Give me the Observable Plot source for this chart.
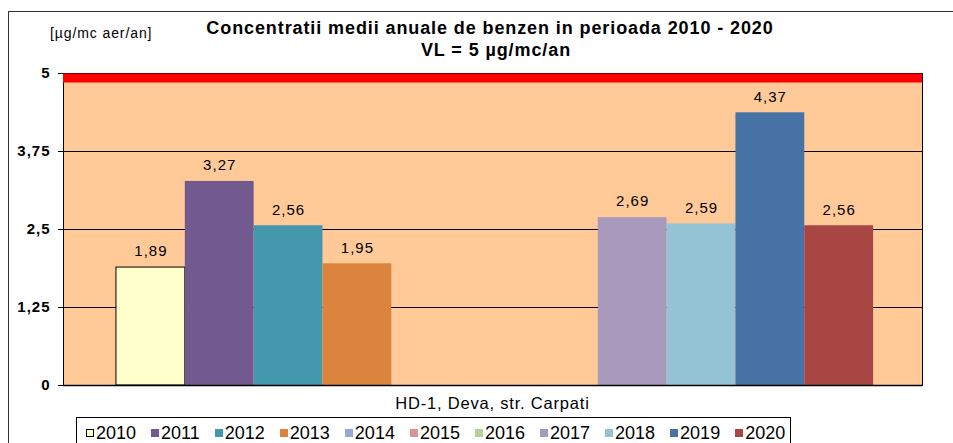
<!DOCTYPE html>
<html>
<head>
<meta charset="utf-8">
<script src="https://cdn.jsdelivr.net/npm/d3@7"></script>
<script src="https://cdn.jsdelivr.net/npm/@observablehq/plot@0.6"></script>
<style>
  html, body { margin: 0; padding: 0; background: #fff; }
  body { font-family: "Liberation Sans", Arial, sans-serif; color: #000; }
  #wrap { position: relative; width: 953px; height: 443px; overflow: hidden; }
  #wrap svg { position: absolute; left: 0; top: 0; }
  .abs { position: absolute; white-space: nowrap; }
  #frame { position: absolute; left: 8px; top: 11px; width: 960px; height: 460px; border-left: 1.5px solid #333; border-top: 1.5px solid #333; }
  .title { left: 0; width: 980px; text-align: center; font-weight: bold; font-size: 18px; letter-spacing: 0.9px; line-height: 22px; }
  #t1 { top: 17px; }
  #t2 { top: 39px; width: 992px; }
  #unit { left: 50px; top: 25px; font-size: 14px; letter-spacing: 0.9px; }
  #xlabel { left: 0; width: 985px; text-align: center; top: 394px; font-size: 16.5px; letter-spacing: 0.8px; }
  #legend { left: 76px; top: 417px; width: 715px; height: 32px; border: 1px solid #000; box-sizing: border-box; display: flex; align-items: flex-start; padding-left: 9px; padding-top: 5px; }
  .item { display: flex; align-items: center; margin-right: 15px; font-size: 18px; line-height: 20px; }
  .sw { width: 8px; height: 8px; margin-right: 2px; box-sizing: border-box; }
  .vlab text { letter-spacing: 1px; }
  .yax text { letter-spacing: 1px; }
</style>
</head>
<body>
<div id="wrap">
  <div id="frame"></div>
  <div id="chart"></div>
  <div id="t1" class="abs title">Concentratii medii anuale de benzen in perioada 2010 - 2020</div>
  <div id="t2" class="abs title">VL = 5 µg/mc/an</div>
  <div id="unit" class="abs">[µg/mc aer/an]</div>
  <div id="xlabel" class="abs">HD-1, Deva, str. Carpati</div>
  <div id="legend" class="abs"></div>
</div>
<script>
// Data
const years = ["2010","2011","2012","2013","2014","2015","2016","2017","2018","2019","2020"];
const values = [1.89, 3.27, 2.56, 1.95, null, null, null, 2.69, 2.59, 4.37, 2.56];
const yTicks = [0, 1.25, 2.5, 3.75, 5];
const limitValue = [5];
const gridValues = [1.25, 2.5, 3.75];
const palette = ["#FFFFCC","#72598F","#4398AE","#DA843E","#94A9D3","#D79594","#B6D095","#A99ABD","#93C3D4","#4672A5","#A84644"];

const data = years.map((y, i) => ({year: y, value: values[i]})).filter(d => d.value != null);
const fmt = v => String(v).replace(".", ",");

const chart = Plot.plot({
  width: 953,
  height: 443,
  marginTop: 73,
  marginBottom: 58,
  marginLeft: 63,
  marginRight: 31,
  style: {fontFamily: "'Liberation Sans', Arial, sans-serif", color: "#000", background: "transparent", overflow: "visible"},
  x: {type: "band", domain: years, paddingInner: 0, paddingOuter: 0.74, align: 0.52, round: false, axis: null},
  y: {domain: [0, 5]},
  color: {domain: years, range: palette},
  marks: [
    Plot.frame({fill: "#FFCA98", stroke: "#000", strokeWidth: 1}),
    Plot.ruleY(gridValues, {stroke: "#000", strokeWidth: 1.2}),
    Plot.barY(data, {x: "year", y: "value", fill: "year", stroke: d => d.year === "2010" ? "#000" : "none", strokeWidth: 1, inset: 0}),
    Plot.ruleY(limitValue, {stroke: "#FF0000", strokeWidth: 9, dy: 4.5}),
    Plot.ruleY([0], {stroke: "#000", strokeWidth: 1.5}),
    Plot.axisY(yTicks, {tickFormat: fmt, tickSize: 5, tickPadding: 8, fontSize: 15, fontWeight: "bold", label: null, stroke: "#000", className: "yax"}),
    Plot.text(data, {x: "year", y: "value", text: d => fmt(d.value), dy: -16, fontSize: 15, fill: "#000", className: "vlab"})
  ]
});
document.getElementById("chart").appendChild(chart);

// Legend
const legend = document.getElementById("legend");
years.forEach((y, i) => {
  const it = document.createElement("div");
  it.className = "item";
  const sw = document.createElement("div");
  sw.className = "sw";
  sw.style.background = palette[i];
  if (i === 0) sw.style.border = "1px solid #000";
  const t = document.createElement("span");
  t.textContent = y;
  it.appendChild(sw);
  it.appendChild(t);
  legend.appendChild(it);
});
</script>
</body>
</html>
